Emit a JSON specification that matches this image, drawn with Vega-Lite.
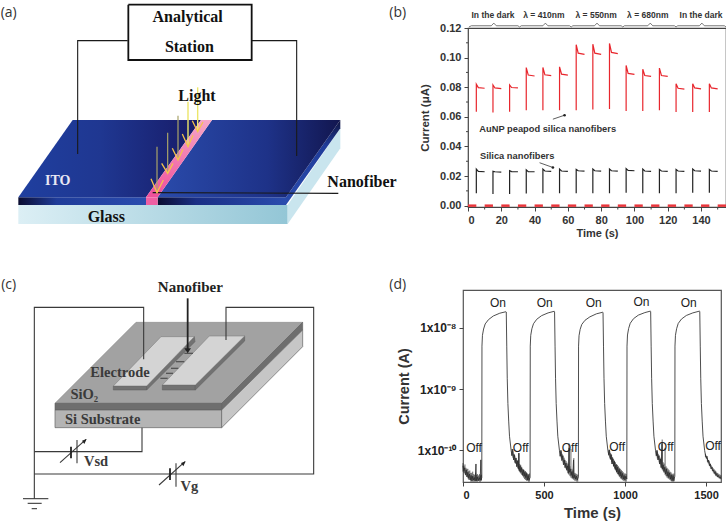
{"$schema":"https://vega.github.io/schema/vega-lite/v6.json","background":"white","padding":{"left":0,"top":1,"right":0,"bottom":0},"bounds":"flush","spacing":262,"config":{"font":"Liberation Sans","view":{"stroke":null}},"vconcat":[{"hconcat":[
{"width":467,"height":179,"view":{"stroke":null},"encoding":{"x":{"field":"x","type":"quantitative","scale":{"domain":[0,1401]},"axis":null},"y":{"field":"y","type":"quantitative","scale":{"domain":[621,84]},"axis":null}},"layer":[
{"data":{"values":[{"x":52,"y":615},{"x":860,"y":615},{"x":860,"y":672},{"x":52,"y":672},{"x":52,"y":615}]},"mark":{"type":"line","order":false,"strokeWidth":0,"fill":{"gradient":"linear","x1":0,"x2":1,"y1":0,"y2":0,"stops":[{"offset":0,"color":"#dcEFF5"},{"offset":1,"color":"#93c6d6"}]}},"encoding":{}},
{"data":{"values":[{"x":860,"y":615},{"x":1018,"y":385},{"x":1018,"y":445},{"x":860,"y":672},{"x":860,"y":615}]},"mark":{"type":"line","order":false,"strokeWidth":0,"fill":"#c9e5ee"},"encoding":{}},
{"data":{"values":[{"x":52,"y":592},{"x":435,"y":592},{"x":435,"y":615},{"x":52,"y":615},{"x":52,"y":592}]},"mark":{"type":"line","order":false,"strokeWidth":0,"fill":{"gradient":"linear","x1":0,"x2":1,"y1":0,"y2":0,"stops":[{"offset":0,"color":"#0a0c30"},{"offset":0.3,"color":"#1f3c99"},{"offset":1,"color":"#2a4cae"}]}},"encoding":{}},
{"data":{"values":[{"x":470,"y":592},{"x":855,"y":592},{"x":855,"y":615},{"x":470,"y":615},{"x":470,"y":592}]},"mark":{"type":"line","order":false,"strokeWidth":0,"fill":{"gradient":"linear","x1":0,"x2":1,"y1":0,"y2":0,"stops":[{"offset":0,"color":"#0a0c30"},{"offset":0.3,"color":"#1a2f85"},{"offset":1,"color":"#2a4cae"}]}},"encoding":{}},
{"data":{"values":[{"x":435,"y":592},{"x":470,"y":592},{"x":470,"y":615},{"x":435,"y":615},{"x":435,"y":592}]},"mark":{"type":"line","order":false,"strokeWidth":0,"fill":"#ee5fa3"},"encoding":{}},
{"data":{"values":[{"x":855,"y":592},{"x":1018,"y":360},{"x":1018,"y":385},{"x":855,"y":615},{"x":855,"y":592}]},"mark":{"type":"line","order":false,"strokeWidth":0,"fill":{"gradient":"linear","x1":0,"x2":0,"y1":0,"y2":1,"stops":[{"offset":0,"color":"#10143f"},{"offset":0.3,"color":"#1f3c99"},{"offset":1,"color":"#2a4cae"}]}},"encoding":{}},
{"data":{"values":[{"x":215,"y":360},{"x":600,"y":360},{"x":435,"y":592},{"x":52,"y":592},{"x":215,"y":360}]},"mark":{"type":"line","order":false,"strokeWidth":0,"fill":{"gradient":"linear","x1":0,"x2":1,"y1":0,"y2":0,"stops":[{"offset":0,"color":"#1f3f9f"},{"offset":0.45,"color":"#1f3791"},{"offset":1,"color":"#171a66"}]}},"encoding":{}},
{"data":{"values":[{"x":633,"y":360},{"x":1018,"y":360},{"x":855,"y":592},{"x":470,"y":592},{"x":633,"y":360}]},"mark":{"type":"line","order":false,"strokeWidth":0,"fill":{"gradient":"linear","x1":0,"x2":1,"y1":0,"y2":0,"stops":[{"offset":0,"color":"#2a4bab"},{"offset":0.6,"color":"#1e3288"},{"offset":1,"color":"#12164f"}]}},"encoding":{}},
{"data":{"values":[{"x":600,"y":360},{"x":633,"y":360},{"x":470,"y":592},{"x":435,"y":592},{"x":600,"y":360}]},"mark":{"type":"line","order":false,"strokeWidth":0,"fill":{"gradient":"linear","x1":0,"x2":0,"y1":0,"y2":1,"stops":[{"offset":0,"color":"#f6a6c6"},{"offset":1,"color":"#ee4f9b"}]}},"encoding":{}},
{"data":{"values":[{"p":1,"x":230,"y":462},{"p":1,"x":230,"y":122},{"p":1,"x":380,"y":122},{"p":2,"x":887,"y":468},{"p":2,"x":887,"y":122},{"p":2,"x":750,"y":122},{"p":3,"x":455,"y":578},{"p":3,"x":1012,"y":580}]},"mark":{"type":"line","order":false,"stroke":"#1a1a1a","strokeWidth":1.1},"encoding":{"detail":{"field":"p"}}},
{"data":{"values":[{"x":382,"y":14},{"x":752,"y":14},{"x":752,"y":180},{"x":382,"y":180},{"x":382,"y":14}]},"mark":{"type":"line","order":false,"stroke":"#111","strokeWidth":1.8,"fill":"white"},"encoding":{}},
{"data":{"values":[{"p":1,"x":468,"y":440},{"p":1,"x":468,"y":578},{"p":2,"x":500,"y":398},{"p":2,"x":500,"y":520},{"p":3,"x":531,"y":347},{"p":3,"x":531,"y":480}]},"mark":{"type":"line","order":false,"stroke":"#a9a46a","strokeWidth":1.2},"encoding":{"detail":{"field":"p"}}},
{"data":{"values":[{"p":4,"x":561,"y":305},{"p":4,"x":561,"y":440},{"p":5,"x":590,"y":262},{"p":5,"x":590,"y":395}]},"mark":{"type":"line","order":false,"stroke":"#ecE66a","strokeWidth":1.4},"encoding":{"detail":{"field":"p"}}},
{"data":{"values":[{"p":1,"x":450,"y":536},{"p":1,"x":468,"y":578},{"p":1,"x":487,"y":540},{"p":2,"x":482,"y":490},{"p":2,"x":500,"y":520},{"p":2,"x":516,"y":490},{"p":3,"x":514,"y":445},{"p":3,"x":531,"y":480},{"p":3,"x":546,"y":448},{"p":4,"x":544,"y":402},{"p":4,"x":561,"y":440},{"p":4,"x":576,"y":406},{"p":5,"x":574,"y":362},{"p":5,"x":590,"y":395},{"p":5,"x":606,"y":366}]},"mark":{"type":"line","order":false,"stroke":"#f3c44c","strokeWidth":1.3},"encoding":{"detail":{"field":"p"}}},
{"data":{"values":[{"t":"Analytical","x":560,"y":50},{"t":"Station","x":565,"y":140},{"t":"Light","x":588,"y":288},{"t":"Glass","x":316,"y":650},{"t":"Nanofiber","x":1083,"y":545}]},"mark":{"type":"text","font":"Liberation Serif","fontWeight":"bold","fontSize":16,"fill":"#111"},"encoding":{"text":{"field":"t"}}},
{"data":{"values":[{"t":"ITO","x":170,"y":543}]},"mark":{"type":"text","font":"Liberation Serif","fontWeight":"bold","fontSize":14,"fill":"#e8e8f4"},"encoding":{"text":{"field":"t"}}},
{"data":{"values":[{"t":"(a)","x":23,"y":40},{"t":"(b)","x":1190,"y":40}]},"mark":{"type":"text","font":"Open Sans","fontSize":14,"fill":"#333"},"encoding":{"text":{"field":"t"}}}
]},
{"width":258,"height":179,"view":{"stroke":"#444","strokeWidth":1.2},"layer":[
{"data":{"name":"pulses","values":[
{"s":"AuNP","n":1,"t":5,"v":0.0635},{"s":"AuNP","n":1,"t":5,"v":0.082},{"s":"AuNP","n":1,"t":6.2,"v":0.0797},{"s":"AuNP","n":1,"t":10,"v":0.0793},
{"s":"AuNP","n":2,"t":15,"v":0.063},{"s":"AuNP","n":2,"t":15,"v":0.0815},{"s":"AuNP","n":2,"t":16.2,"v":0.0795},{"s":"AuNP","n":2,"t":20,"v":0.079},
{"s":"AuNP","n":3,"t":25,"v":0.0635},{"s":"AuNP","n":3,"t":25,"v":0.0815},{"s":"AuNP","n":3,"t":26.2,"v":0.0798},{"s":"AuNP","n":3,"t":30,"v":0.0795},
{"s":"AuNP","n":4,"t":35,"v":0.0644},{"s":"AuNP","n":4,"t":35,"v":0.0933},{"s":"AuNP","n":4,"t":36.2,"v":0.0882},{"s":"AuNP","n":4,"t":40,"v":0.0876},
{"s":"AuNP","n":5,"t":45,"v":0.0644},{"s":"AuNP","n":5,"t":45,"v":0.0933},{"s":"AuNP","n":5,"t":46.2,"v":0.0884},{"s":"AuNP","n":5,"t":50,"v":0.0878},
{"s":"AuNP","n":6,"t":55,"v":0.0644},{"s":"AuNP","n":6,"t":55,"v":0.0938},{"s":"AuNP","n":6,"t":56.2,"v":0.0888},{"s":"AuNP","n":6,"t":60,"v":0.0882},
{"s":"AuNP","n":7,"t":65,"v":0.0644},{"s":"AuNP","n":7,"t":65,"v":0.1087},{"s":"AuNP","n":7,"t":66.2,"v":0.103},{"s":"AuNP","n":7,"t":70,"v":0.1022},
{"s":"AuNP","n":8,"t":75,"v":0.0649},{"s":"AuNP","n":8,"t":75,"v":0.1091},{"s":"AuNP","n":8,"t":76.2,"v":0.103},{"s":"AuNP","n":8,"t":80,"v":0.1022},
{"s":"AuNP","n":9,"t":85,"v":0.0653},{"s":"AuNP","n":9,"t":85,"v":0.1096},{"s":"AuNP","n":9,"t":86.2,"v":0.1035},{"s":"AuNP","n":9,"t":90,"v":0.1027},
{"s":"AuNP","n":10,"t":95,"v":0.064},{"s":"AuNP","n":10,"t":95,"v":0.0947},{"s":"AuNP","n":10,"t":96.2,"v":0.0893},{"s":"AuNP","n":10,"t":100,"v":0.0887},
{"s":"AuNP","n":11,"t":105,"v":0.064},{"s":"AuNP","n":11,"t":105,"v":0.0922},{"s":"AuNP","n":11,"t":106.2,"v":0.0879},{"s":"AuNP","n":11,"t":110,"v":0.0873},
{"s":"AuNP","n":12,"t":115,"v":0.0644},{"s":"AuNP","n":12,"t":115,"v":0.0929},{"s":"AuNP","n":12,"t":116.2,"v":0.0879},{"s":"AuNP","n":12,"t":120,"v":0.0873},
{"s":"AuNP","n":13,"t":125,"v":0.0633},{"s":"AuNP","n":13,"t":125,"v":0.0824},{"s":"AuNP","n":13,"t":126.2,"v":0.0793},{"s":"AuNP","n":13,"t":130,"v":0.0787},
{"s":"AuNP","n":14,"t":135,"v":0.0633},{"s":"AuNP","n":14,"t":135,"v":0.0824},{"s":"AuNP","n":14,"t":136.2,"v":0.0795},{"s":"AuNP","n":14,"t":140,"v":0.0789},
{"s":"AuNP","n":15,"t":145,"v":0.0633},{"s":"AuNP","n":15,"t":145,"v":0.0824},{"s":"AuNP","n":15,"t":146.2,"v":0.0795},{"s":"AuNP","n":15,"t":150,"v":0.0789},
{"s":"Silica","n":16,"t":5,"v":0.0084},{"s":"Silica","n":16,"t":5,"v":0.0247},{"s":"Silica","n":16,"t":6.2,"v":0.0232},{"s":"Silica","n":16,"t":10,"v":0.0229},
{"s":"Silica","n":17,"t":15,"v":0.0078},{"s":"Silica","n":17,"t":15,"v":0.0232},{"s":"Silica","n":17,"t":16.2,"v":0.0229},{"s":"Silica","n":17,"t":20,"v":0.0227},
{"s":"Silica","n":18,"t":25,"v":0.0078},{"s":"Silica","n":18,"t":25,"v":0.0236},{"s":"Silica","n":18,"t":26.2,"v":0.023},{"s":"Silica","n":18,"t":30,"v":0.0229},
{"s":"Silica","n":19,"t":35,"v":0.0082},{"s":"Silica","n":19,"t":35,"v":0.0242},{"s":"Silica","n":19,"t":36.2,"v":0.023},{"s":"Silica","n":19,"t":40,"v":0.0229},
{"s":"Silica","n":20,"t":45,"v":0.0084},{"s":"Silica","n":20,"t":45,"v":0.0247},{"s":"Silica","n":20,"t":46.2,"v":0.0234},{"s":"Silica","n":20,"t":50,"v":0.0231},
{"s":"Silica","n":21,"t":55,"v":0.0084},{"s":"Silica","n":21,"t":55,"v":0.0247},{"s":"Silica","n":21,"t":56.2,"v":0.0234},{"s":"Silica","n":21,"t":60,"v":0.0231},
{"s":"Silica","n":22,"t":65,"v":0.0084},{"s":"Silica","n":22,"t":65,"v":0.0245},{"s":"Silica","n":22,"t":66.2,"v":0.0236},{"s":"Silica","n":22,"t":70,"v":0.0233},
{"s":"Silica","n":23,"t":75,"v":0.0084},{"s":"Silica","n":23,"t":75,"v":0.0247},{"s":"Silica","n":23,"t":76.2,"v":0.0236},{"s":"Silica","n":23,"t":80,"v":0.0233},
{"s":"Silica","n":24,"t":85,"v":0.0084},{"s":"Silica","n":24,"t":85,"v":0.0247},{"s":"Silica","n":24,"t":86.2,"v":0.0236},{"s":"Silica","n":24,"t":90,"v":0.0233},
{"s":"Silica","n":25,"t":95,"v":0.0087},{"s":"Silica","n":25,"t":95,"v":0.025},{"s":"Silica","n":25,"t":96.2,"v":0.0238},{"s":"Silica","n":25,"t":100,"v":0.0236},
{"s":"Silica","n":26,"t":105,"v":0.0084},{"s":"Silica","n":26,"t":105,"v":0.0247},{"s":"Silica","n":26,"t":106.2,"v":0.0234},{"s":"Silica","n":26,"t":110,"v":0.0231},
{"s":"Silica","n":27,"t":115,"v":0.0084},{"s":"Silica","n":27,"t":115,"v":0.0245},{"s":"Silica","n":27,"t":116.2,"v":0.0234},{"s":"Silica","n":27,"t":120,"v":0.0231},
{"s":"Silica","n":28,"t":125,"v":0.0084},{"s":"Silica","n":28,"t":125,"v":0.0245},{"s":"Silica","n":28,"t":126.2,"v":0.0234},{"s":"Silica","n":28,"t":130,"v":0.0231},
{"s":"Silica","n":29,"t":135,"v":0.0087},{"s":"Silica","n":29,"t":135,"v":0.0247},{"s":"Silica","n":29,"t":136.2,"v":0.0236},{"s":"Silica","n":29,"t":140,"v":0.0233},
{"s":"Silica","n":30,"t":145,"v":0.0087},{"s":"Silica","n":30,"t":145,"v":0.0245},{"s":"Silica","n":30,"t":146.2,"v":0.0234},{"s":"Silica","n":30,"t":150,"v":0.0231}
]},"mark":{"type":"line","order":false,"strokeWidth":1.2},"encoding":{"x":{"field":"t","type":"quantitative","scale":{"domain":[0,155],"nice":false},"axis":{"values":[0,20,40,60,80,100,120,140],"tickCount":30,"grid":false,"title":"Time (s)","titleFontWeight":"bold","titleFontSize":11,"titleColor":"#333","titlePadding":2,"labelFontWeight":"bold","labelFontSize":11,"labelColor":"#333","labelPadding":3,"tickColor":"#444","domain":false,"tickSize":4}},"y":{"field":"v","type":"quantitative","scale":{"domain":[-0.0009,0.12],"nice":false,"zero":false},"axis":{"values":[0,0.02,0.04,0.06,0.08,0.1,0.12],"tickCount":30,"format":".2f","grid":false,"title":"Current (μA)","titleFontWeight":"bold","titleFontSize":11.5,"titleColor":"#333","titlePadding":9,"labelFontWeight":"bold","labelFontSize":11,"labelColor":"#333","labelPadding":3,"tickColor":"#444","domain":false,"tickSize":4}},"color":{"field":"s","type":"nominal","scale":{"domain":["AuNP","Silica"],"range":["#e8262d","#222222"]},"legend":null},"detail":{"field":"n"}}},
{"data":{"values":[{"t":0,"t2":5,"v":0},{"t":10,"t2":15,"v":0},{"t":20,"t2":25,"v":0},{"t":30,"t2":35,"v":0},{"t":40,"t2":45,"v":0},{"t":50,"t2":55,"v":0},{"t":60,"t2":65,"v":0},{"t":70,"t2":75,"v":0},{"t":80,"t2":85,"v":0},{"t":90,"t2":95,"v":0},{"t":100,"t2":105,"v":0},{"t":110,"t2":115,"v":0},{"t":120,"t2":125,"v":0},{"t":130,"t2":135,"v":0},{"t":140,"t2":145,"v":0},{"t":150,"t2":155,"v":0}]},"mark":{"type":"rule","stroke":"#e8363c","strokeWidth":2.5},"encoding":{"x":{"field":"t","type":"quantitative"},"x2":{"field":"t2"},"y":{"field":"v","type":"quantitative"}}},
{"data":{"values":[{"t":-1.2,"t2":0,"v":0.01},{"t":-1.2,"t2":0,"v":0.03},{"t":-1.2,"t2":0,"v":0.05},{"t":-1.2,"t2":0,"v":0.07},{"t":-1.2,"t2":0,"v":0.09},{"t":-1.2,"t2":0,"v":0.11}]},"mark":{"type":"rule","stroke":"#444","strokeWidth":1},"encoding":{"x":{"field":"t","type":"quantitative"},"x2":{"field":"t2"},"y":{"field":"v","type":"quantitative"}}},
{"data":{"values":[{"t":10,"v":-0.0009,"v2":-0.0026},{"t":30,"v":-0.0009,"v2":-0.0026},{"t":50,"v":-0.0009,"v2":-0.0026},{"t":70,"v":-0.0009,"v2":-0.0026},{"t":90,"v":-0.0009,"v2":-0.0026},{"t":110,"v":-0.0009,"v2":-0.0026},{"t":130,"v":-0.0009,"v2":-0.0026},{"t":150,"v":-0.0009,"v2":-0.0026}]},"mark":{"type":"rule","stroke":"#444","strokeWidth":1},"encoding":{"x":{"field":"t","type":"quantitative"},"y":{"field":"v","type":"quantitative"},"y2":{"field":"v2"}}},
{"data":{"values":[{"k":1,"t":0.6,"v":0.1207},{"k":1,"t":2,"v":0.1215},{"k":1,"t":14,"v":0.1215},{"k":1,"t":15.5,"v":0.1233},{"k":1,"t":17,"v":0.1215},{"k":1,"t":30,"v":0.1215},{"k":1,"t":31,"v":0.1207},{"k":2,"t":31,"v":0.1207},{"k":2,"t":32,"v":0.1215},{"k":2,"t":45,"v":0.1215},{"k":2,"t":46.5,"v":0.1233},{"k":2,"t":48,"v":0.1215},{"k":2,"t":61,"v":0.1215},{"k":2,"t":62,"v":0.1207},{"k":3,"t":62,"v":0.1207},{"k":3,"t":63,"v":0.1215},{"k":3,"t":76,"v":0.1215},{"k":3,"t":77.5,"v":0.1233},{"k":3,"t":79,"v":0.1215},{"k":3,"t":92,"v":0.1215},{"k":3,"t":93,"v":0.1207},{"k":4,"t":93,"v":0.1207},{"k":4,"t":94,"v":0.1215},{"k":4,"t":108,"v":0.1215},{"k":4,"t":109.5,"v":0.1233},{"k":4,"t":111,"v":0.1215},{"k":4,"t":124,"v":0.1215},{"k":4,"t":125,"v":0.1207},{"k":5,"t":125,"v":0.1207},{"k":5,"t":126,"v":0.1215},{"k":5,"t":139,"v":0.1215},{"k":5,"t":140.5,"v":0.1233},{"k":5,"t":142,"v":0.1215},{"k":5,"t":154,"v":0.1215},{"k":5,"t":155,"v":0.1207}]},"mark":{"type":"line","order":false,"stroke":"#555","strokeWidth":0.8,"clip":false},"encoding":{"x":{"field":"t","type":"quantitative"},"y":{"field":"v","type":"quantitative"},"detail":{"field":"k"}}},
{"data":{"values":[{"t":"In the dark","x":15,"v":0.1291},{"t":"λ = 410nm","x":45.6,"v":0.1291},{"t":"λ = 550nm","x":77,"v":0.1291},{"t":"λ = 680nm","x":108,"v":0.1291},{"t":"In the dark","x":140,"v":0.1291}]},"mark":{"type":"text","fontWeight":"bold","fontSize":8.5,"fill":"#333"},"encoding":{"x":{"field":"x","type":"quantitative"},"y":{"field":"v","type":"quantitative"},"text":{"field":"t"}}},
{"data":{"values":[{"t":"AuNP peapod silica nanofibers","x":6.8,"v":0.052},{"t":"Silica nanofibers","x":7.2,"v":0.0333}]},"mark":{"type":"text","fontWeight":"bold","fontSize":9.3,"fill":"#333","align":"left"},"encoding":{"x":{"field":"x","type":"quantitative"},"y":{"field":"v","type":"quantitative"},"text":{"field":"t"}}},
{"data":{"values":[{"k":1,"t":51,"v":0.0584},{"k":1,"t":58,"v":0.0611},{"k":2,"t":43,"v":0.029},{"k":2,"t":51,"v":0.0258}]},"mark":{"type":"line","order":false,"stroke":"#333","strokeWidth":0.8},"encoding":{"x":{"field":"t","type":"quantitative"},"y":{"field":"v","type":"quantitative"},"detail":{"field":"k"}}},
{"data":{"values":[{"t":58,"v":0.0611},{"t":51,"v":0.0258}]},"mark":{"type":"point","shape":"circle","size":7,"filled":true,"fill":"#222","opacity":1},"encoding":{"x":{"field":"t","type":"quantitative"},"y":{"field":"v","type":"quantitative"}}}
]}
],"spacing":0,"bounds":"flush"},
{"hconcat":[
{"width":462,"height":192,"view":{"stroke":null},"encoding":{"x":{"field":"x","type":"quantitative","scale":{"domain":[0,1386]},"axis":null},"y":{"field":"y","type":"quantitative","scale":{"domain":[636,60]},"axis":null}},"layer":[
{"data":{"values":[{"x":405,"y":157},{"x":905,"y":157},{"x":662,"y":400},{"x":162,"y":400},{"x":405,"y":157}]},"mark":{"type":"line","order":false,"fill":"#a2a2a2","stroke":"#8a8a8a","strokeWidth":0.6},"encoding":{}},
{"data":{"values":[{"p":1,"x":162,"y":400},{"p":1,"x":662,"y":400},{"p":1,"x":662,"y":420},{"p":1,"x":162,"y":420},{"p":1,"x":162,"y":400},{"p":2,"x":662,"y":400},{"p":2,"x":905,"y":157},{"p":2,"x":905,"y":180},{"p":2,"x":662,"y":420},{"p":2,"x":662,"y":400}]},"mark":{"type":"line","order":false,"fill":"#6e6e6e","stroke":"#5c5c5c","strokeWidth":0.6},"encoding":{"detail":{"field":"p"}}},
{"data":{"values":[{"x":162,"y":420},{"x":662,"y":420},{"x":662,"y":473},{"x":162,"y":473},{"x":162,"y":420}]},"mark":{"type":"line","order":false,"fill":"#b4b4b4","stroke":"#666","strokeWidth":0.7},"encoding":{}},
{"data":{"values":[{"x":662,"y":420},{"x":905,"y":180},{"x":905,"y":230},{"x":662,"y":473},{"x":662,"y":420}]},"mark":{"type":"line","order":false,"fill":"#c6c6c6","stroke":"#666","strokeWidth":0.7},"encoding":{}},
{"data":{"values":[{"p":1,"x":337,"y":348},{"p":1,"x":437,"y":348},{"p":1,"x":437,"y":360},{"p":1,"x":337,"y":360},{"p":1,"x":337,"y":348},{"p":2,"x":437,"y":348},{"p":2,"x":580,"y":200},{"p":2,"x":582,"y":215},{"p":2,"x":437,"y":360},{"p":2,"x":437,"y":348},{"p":3,"x":484,"y":345},{"p":3,"x":583,"y":345},{"p":3,"x":583,"y":360},{"p":3,"x":484,"y":360},{"p":3,"x":484,"y":345},{"p":4,"x":583,"y":345},{"p":4,"x":731,"y":198},{"p":4,"x":731,"y":213},{"p":4,"x":583,"y":360},{"p":4,"x":583,"y":345}]},"mark":{"type":"line","order":false,"fill":"#727272","stroke":"#5c5c5c","strokeWidth":0.5},"encoding":{"detail":{"field":"p"}}},
{"data":{"values":[{"p":1,"x":480,"y":200},{"p":1,"x":580,"y":200},{"p":1,"x":437,"y":348},{"p":1,"x":337,"y":348},{"p":1,"x":480,"y":200},{"p":2,"x":625,"y":198},{"p":2,"x":731,"y":198},{"p":2,"x":583,"y":345},{"p":2,"x":484,"y":345},{"p":2,"x":625,"y":198}]},"mark":{"type":"line","order":false,"fill":"#d4d4d4","stroke":"#777","strokeWidth":0.5},"encoding":{"detail":{"field":"p"}}},
{"data":{"values":[{"p":1,"x":550,"y":250},{"p":1,"x":576,"y":250},{"p":2,"x":525,"y":275},{"p":2,"x":550,"y":275},{"p":3,"x":510,"y":295},{"p":3,"x":532,"y":295},{"p":4,"x":495,"y":310},{"p":4,"x":516,"y":310},{"p":5,"x":478,"y":325},{"p":5,"x":500,"y":325}]},"mark":{"type":"line","order":false,"stroke":"#555","strokeWidth":1.3},"encoding":{"detail":{"field":"p"}}},
{"data":{"values":[{"p":1,"x":428,"y":268},{"p":1,"x":428,"y":112},{"p":1,"x":100,"y":112},{"p":1,"x":100,"y":686},{"p":2,"x":675,"y":210},{"p":2,"x":675,"y":112},{"p":2,"x":938,"y":112},{"p":2,"x":938,"y":612},{"p":2,"x":100,"y":612},{"p":3,"x":423,"y":473},{"p":3,"x":423,"y":545},{"p":3,"x":100,"y":545},{"p":4,"x":66,"y":686},{"p":4,"x":142,"y":686},{"p":5,"x":80,"y":700},{"p":5,"x":122,"y":700},{"p":6,"x":92,"y":716},{"p":6,"x":108,"y":716},{"p":7,"x":177,"y":578},{"p":7,"x":255,"y":508},{"p":8,"x":228,"y":510},{"p":8,"x":228,"y":580},{"p":9,"x":474,"y":645},{"p":9,"x":552,"y":575},{"p":10,"x":525,"y":580},{"p":10,"x":525,"y":650}]},"mark":{"type":"line","order":false,"stroke":"#3a3a3a","strokeWidth":1.1},"encoding":{"detail":{"field":"p"}}},
{"data":{"values":[{"p":1,"x":210,"y":530},{"p":1,"x":210,"y":565},{"p":2,"x":507,"y":595},{"p":2,"x":507,"y":630},{"p":3,"x":560,"y":85},{"p":3,"x":560,"y":240}]},"mark":{"type":"line","order":false,"stroke":"#222","strokeWidth":1.8},"encoding":{"detail":{"field":"p"}}},
{"data":{"values":[{"p":1,"x":560,"y":250},{"p":1,"x":550,"y":235},{"p":1,"x":570,"y":235},{"p":1,"x":560,"y":250},{"p":2,"x":257,"y":507},{"p":2,"x":243,"y":512},{"p":2,"x":250,"y":522},{"p":2,"x":257,"y":507},{"p":3,"x":554,"y":574},{"p":3,"x":540,"y":579},{"p":3,"x":547,"y":589},{"p":3,"x":554,"y":574}]},"mark":{"type":"line","order":false,"fill":"#222","strokeWidth":0},"encoding":{"detail":{"field":"p"}}},
{"data":{"values":[{"t":"Nanofiber","x":568,"y":52}]},"mark":{"type":"text","font":"Liberation Serif","fontWeight":"bold","fontSize":15,"fill":"#222"},"encoding":{"text":{"field":"t"}}},
{"data":{"values":[{"t":"Electrode","x":357,"y":310},{"t":"SiO₂","x":250,"y":376},{"t":"Si Substrate","x":305,"y":450},{"t":"Vsd","x":285,"y":577},{"t":"Vg","x":565,"y":652}]},"mark":{"type":"text","font":"Liberation Serif","fontWeight":"bold","fontSize":14.5,"fill":"#3a3a3a"},"encoding":{"text":{"field":"t"}}},
{"data":{"values":[{"t":"(c)","x":23,"y":45},{"t":"(d)","x":1190,"y":45}]},"mark":{"type":"text","font":"Open Sans","fontSize":14,"fill":"#333"},"encoding":{"text":{"field":"t"}}}
]},
{"width":258,"height":192,"view":{"stroke":"#555","strokeWidth":1.2},"layer":[
{"data":{"values":[
{"t":0,"i":5.6e-11},{"t":5,"i":4.6e-11},{"t":10,"i":5.2e-11},{"t":15,"i":4e-11},{"t":20,"i":4.8e-11},{"t":25,"i":3.7e-11},{"t":30,"i":4.4e-11},{"t":35,"i":3.5e-11},{"t":40,"i":4.1e-11},{"t":45,"i":3.3e-11},{"t":50,"i":3.9e-11},{"t":55,"i":3.2e-11},{"t":60,"i":3.8e-11},{"t":65,"i":3.3e-11},{"t":70,"i":3.6e-11},{"t":75,"i":3.2e-11},{"t":80,"i":6e-11},{"t":82,"i":3.2e-11},{"t":88,"i":3.7e-11},{"t":94,"i":3.2e-11},{"t":100,"i":3.6e-11},{"t":106,"i":3.3e-11},{"t":110,"i":7e-11},{"t":112,"i":3.3e-11},{"t":116,"i":3.6e-11},
{"t":117,"i":5e-9},{"t":120,"i":7.5e-9},{"t":127,"i":9.5e-9},{"t":137,"i":1.15e-8},{"t":157,"i":1.35e-8},{"t":187,"i":1.55e-8},{"t":227,"i":1.72e-8},{"t":265,"i":1.82e-8},{"t":267,"i":1.8e-8},{"t":270,"i":5e-9},{"t":273,"i":1.5e-9},{"t":277,"i":5.8e-10},{"t":282,"i":3e-10},{"t":287,"i":1.7e-10},{"t":297,"i":1e-10},
{"t":302,"i":8.2e-11},{"t":307,"i":1.05e-10},{"t":312,"i":7e-11},{"t":317,"i":8.5e-11},{"t":322,"i":6.2e-11},{"t":327,"i":7.5e-11},{"t":332,"i":5.4e-11},{"t":337,"i":6.8e-11},{"t":342,"i":5e-11},{"t":345,"i":9e-11},{"t":347,"i":4.6e-11},{"t":352,"i":5.6e-11},{"t":357,"i":4.4e-11},{"t":362,"i":5.2e-11},{"t":367,"i":4e-11},{"t":372,"i":4.8e-11},{"t":377,"i":3.8e-11},{"t":382,"i":4.4e-11},{"t":387,"i":3.6e-11},{"t":392,"i":4.2e-11},{"t":397,"i":3.3e-11},{"t":402,"i":3.9e-11},{"t":407,"i":3.3e-11},{"t":414,"i":3.6e-11},
{"t":415,"i":5e-9},{"t":418,"i":7.5e-9},{"t":425,"i":9.6e-9},{"t":435,"i":1.16e-8},{"t":455,"i":1.37e-8},{"t":485,"i":1.57e-8},{"t":525,"i":1.74e-8},{"t":563,"i":1.85e-8},{"t":565,"i":1.82e-8},{"t":568,"i":5e-9},{"t":571,"i":1.5e-9},{"t":575,"i":5.8e-10},{"t":580,"i":3e-10},{"t":585,"i":1.7e-10},{"t":595,"i":1e-10},
{"t":600,"i":8e-11},{"t":605,"i":1e-10},{"t":610,"i":6.8e-11},{"t":615,"i":8.2e-11},{"t":620,"i":5.8e-11},{"t":625,"i":7e-11},{"t":630,"i":5.2e-11},{"t":635,"i":6.2e-11},{"t":640,"i":4.8e-11},{"t":645,"i":5.6e-11},{"t":650,"i":4.2e-11},{"t":655,"i":1.1e-10},{"t":657,"i":4.4e-11},{"t":662,"i":5e-11},{"t":667,"i":3.9e-11},{"t":672,"i":4.5e-11},{"t":677,"i":3.6e-11},{"t":682,"i":7e-11},{"t":684,"i":3.5e-11},{"t":690,"i":4e-11},{"t":695,"i":3.4e-11},{"t":700,"i":3.8e-11},{"t":705,"i":3.3e-11},{"t":712,"i":3.7e-11},
{"t":713,"i":5e-9},{"t":716,"i":7.4e-9},{"t":723,"i":9.4e-9},{"t":733,"i":1.13e-8},{"t":753,"i":1.32e-8},{"t":783,"i":1.5e-8},{"t":823,"i":1.68e-8},{"t":861,"i":1.78e-8},{"t":864,"i":1.77e-8},{"t":867,"i":5e-9},{"t":870,"i":1.5e-9},{"t":874,"i":5.8e-10},{"t":879,"i":3e-10},{"t":884,"i":1.7e-10},{"t":894,"i":1e-10},
{"t":899,"i":8.5e-11},{"t":904,"i":1.02e-10},{"t":909,"i":7.2e-11},{"t":914,"i":8.6e-11},{"t":919,"i":6e-11},{"t":924,"i":7.4e-11},{"t":929,"i":5.5e-11},{"t":934,"i":6.6e-11},{"t":939,"i":4.9e-11},{"t":944,"i":5.8e-11},{"t":949,"i":4.4e-11},{"t":954,"i":5.3e-11},{"t":959,"i":4.1e-11},{"t":964,"i":4.9e-11},{"t":969,"i":3.8e-11},{"t":974,"i":4.5e-11},{"t":979,"i":3.6e-11},{"t":984,"i":4.2e-11},{"t":989,"i":3.4e-11},{"t":994,"i":3.9e-11},{"t":999,"i":3.3e-11},{"t":1005,"i":3.8e-11},{"t":1011,"i":3.4e-11},
{"t":1012,"i":5e-9},{"t":1015,"i":7.6e-9},{"t":1022,"i":9.7e-9},{"t":1032,"i":1.18e-8},{"t":1052,"i":1.4e-8},{"t":1082,"i":1.6e-8},{"t":1122,"i":1.76e-8},{"t":1156,"i":1.86e-8},{"t":1158,"i":1.84e-8},{"t":1161,"i":5e-9},{"t":1164,"i":1.5e-9},{"t":1168,"i":5.8e-10},{"t":1173,"i":3e-10},{"t":1178,"i":1.7e-10},{"t":1188,"i":1e-10},
{"t":1193,"i":8.2e-11},{"t":1198,"i":1e-10},{"t":1203,"i":7e-11},{"t":1208,"i":8.2e-11},{"t":1213,"i":6e-11},{"t":1218,"i":7.2e-11},{"t":1223,"i":5.2e-11},{"t":1228,"i":1.3e-10},{"t":1230,"i":4.9e-11},{"t":1235,"i":5.8e-11},{"t":1240,"i":4.5e-11},{"t":1245,"i":5.3e-11},{"t":1250,"i":4.1e-11},{"t":1255,"i":5e-11},{"t":1260,"i":3.8e-11},{"t":1265,"i":4.5e-11},{"t":1270,"i":3.6e-11},{"t":1275,"i":4.3e-11},{"t":1280,"i":3.4e-11},{"t":1285,"i":4e-11},{"t":1290,"i":3.2e-11},{"t":1296,"i":3.9e-11},{"t":1301,"i":3.2e-11},{"t":1307,"i":3.8e-11},
{"t":1308,"i":5e-9},{"t":1311,"i":7.5e-9},{"t":1318,"i":9.6e-9},{"t":1328,"i":1.17e-8},{"t":1348,"i":1.38e-8},{"t":1378,"i":1.58e-8},{"t":1418,"i":1.74e-8},{"t":1459,"i":1.86e-8},{"t":1461,"i":1.84e-8},{"t":1464,"i":5e-9},{"t":1467,"i":1.5e-9},{"t":1471,"i":5.8e-10},{"t":1476,"i":3e-10},{"t":1481,"i":1.7e-10},{"t":1491,"i":1e-10},
{"t":1496,"i":8.4e-11},{"t":1501,"i":7.5e-11},{"t":1506,"i":8e-11},{"t":1511,"i":6.4e-11},{"t":1516,"i":6.9e-11},{"t":1521,"i":5.6e-11},{"t":1526,"i":6e-11},{"t":1531,"i":5e-11},{"t":1536,"i":5.3e-11},{"t":1541,"i":4.6e-11},{"t":1546,"i":4.8e-11},{"t":1551,"i":4.2e-11},{"t":1556,"i":4.5e-11},{"t":1561,"i":3.9e-11},{"t":1566,"i":4.2e-11},{"t":1571,"i":3.7e-11},{"t":1576,"i":3.9e-11},{"t":1581,"i":3.6e-11},{"t":1586,"i":3.7e-11},{"t":1591,"i":3.5e-11}
]},"mark":{"type":"line","order":false,"stroke":"#3a3a3a","strokeWidth":0.9},"encoding":{"x":{"field":"t","type":"quantitative","scale":{"domain":[0,1592],"nice":false},"axis":{"values":[0,500,1000,1500],"format":"d","grid":false,"domain":false,"title":"Time (s)","titleFontWeight":"bold","titleFontSize":15,"titleColor":"#333","titlePadding":5,"labelFontWeight":"bold","labelFontSize":11,"labelColor":"#222","labelPadding":3,"tickSize":4,"tickColor":"#444"}},"y":{"field":"i","type":"quantitative","scale":{"type":"log","domain":[3.05e-11,4.11e-8],"nice":false},"axis":{"values":[1e-10,1e-9,1e-8],"labelExpr":"datum.value>5e-9?'1x10⁻⁸':datum.value>5e-10?'1x10⁻⁹':'1x10⁻¹⁰'","grid":false,"domain":false,"title":"Current (A)","titleFontWeight":"bold","titleFontSize":14.5,"titleColor":"#333","titlePadding":6,"labelFontWeight":"bold","labelFontSize":12,"labelColor":"#222","labelPadding":3,"tickSize":4,"tickColor":"#444"}}}},
{"data":{"values":[
{"t":0,"a":4.5e-11,"b":6.2e-11},{"t":6,"a":4.3e-11,"b":5.6e-11},{"t":12,"a":4.2e-11,"b":5.9e-11},{"t":18,"a":3.9e-11,"b":5.2e-11},{"t":24,"a":3.7e-11,"b":5e-11},{"t":30,"a":3.5e-11,"b":5e-11},{"t":36,"a":3.3e-11,"b":4.6e-11},{"t":42,"a":3.3e-11,"b":4.7e-11},{"t":48,"a":3.1e-11,"b":4.3e-11},{"t":54,"a":3.1e-11,"b":4.3e-11},{"t":60,"a":3.1e-11,"b":4.5e-11},{"t":66,"a":3.1e-11,"b":4.1e-11},{"t":72,"a":3.1e-11,"b":4e-11},{"t":78,"a":3.1e-11,"b":4.3e-11},{"t":84,"a":3.1e-11,"b":4e-11},{"t":90,"a":3.1e-11,"b":4.1e-11},{"t":96,"a":3.2e-11,"b":3.9e-11},{"t":102,"a":3.1e-11,"b":4.1e-11},{"t":108,"a":3.1e-11,"b":3.9e-11},{"t":114,"a":3.2e-11,"b":4e-11},
{"t":302,"a":8.2e-11,"b":1.05e-10},{"t":308,"a":7.6e-11,"b":9.6e-11},{"t":314,"a":7e-11,"b":8.8e-11},{"t":320,"a":6.5e-11,"b":8.2e-11},{"t":326,"a":6e-11,"b":7.6e-11},{"t":332,"a":5.5e-11,"b":7e-11},{"t":338,"a":5.1e-11,"b":6.6e-11},{"t":344,"a":4.8e-11,"b":9e-11},{"t":350,"a":4.4e-11,"b":6e-11},{"t":356,"a":4.2e-11,"b":5.8e-11},{"t":362,"a":4e-11,"b":5.4e-11},{"t":368,"a":3.8e-11,"b":5e-11},{"t":374,"a":3.6e-11,"b":4.9e-11},{"t":380,"a":3.4e-11,"b":4.7e-11},{"t":386,"a":3.3e-11,"b":4.6e-11},{"t":392,"a":3.2e-11,"b":4.4e-11},{"t":398,"a":3.2e-11,"b":4.2e-11},{"t":404,"a":3.1e-11,"b":4.1e-11},{"t":410,"a":3.1e-11,"b":4.2e-11},
{"t":600,"a":8e-11,"b":1e-10},{"t":606,"a":7.4e-11,"b":9.5e-11},{"t":612,"a":7e-11,"b":8.8e-11},{"t":618,"a":6.4e-11,"b":8.2e-11},{"t":624,"a":5.9e-11,"b":7.6e-11},{"t":630,"a":5.4e-11,"b":7e-11},{"t":636,"a":5e-11,"b":6.7e-11},{"t":642,"a":4.6e-11,"b":6.3e-11},{"t":648,"a":4.3e-11,"b":6e-11},{"t":654,"a":4e-11,"b":1.3e-10},{"t":660,"a":3.8e-11,"b":5.5e-11},{"t":666,"a":3.6e-11,"b":1.05e-10},{"t":672,"a":3.5e-11,"b":5e-11},{"t":678,"a":3.4e-11,"b":4.7e-11},{"t":684,"a":3.3e-11,"b":7.5e-11},{"t":690,"a":3.2e-11,"b":4.3e-11},{"t":696,"a":3.2e-11,"b":4.2e-11},{"t":702,"a":3.1e-11,"b":4.1e-11},{"t":708,"a":3.1e-11,"b":4e-11},
{"t":899,"a":8.2e-11,"b":1.02e-10},{"t":905,"a":7.6e-11,"b":9.6e-11},{"t":911,"a":7e-11,"b":9e-11},{"t":917,"a":6.5e-11,"b":8.4e-11},{"t":923,"a":6e-11,"b":7.8e-11},{"t":929,"a":5.5e-11,"b":7.2e-11},{"t":935,"a":5.1e-11,"b":6.8e-11},{"t":941,"a":4.7e-11,"b":6.4e-11},{"t":947,"a":4.4e-11,"b":6e-11},{"t":953,"a":4.1e-11,"b":5.8e-11},{"t":959,"a":3.9e-11,"b":5.5e-11},{"t":965,"a":3.7e-11,"b":5.2e-11},{"t":971,"a":3.5e-11,"b":5e-11},{"t":977,"a":3.4e-11,"b":4.8e-11},{"t":983,"a":3.3e-11,"b":4.6e-11},{"t":989,"a":3.2e-11,"b":4.4e-11},{"t":995,"a":3.2e-11,"b":4.2e-11},{"t":1001,"a":3.1e-11,"b":4.2e-11},{"t":1007,"a":3.1e-11,"b":4.1e-11},
{"t":1193,"a":8e-11,"b":1e-10},{"t":1199,"a":7.4e-11,"b":9.5e-11},{"t":1205,"a":7e-11,"b":8.8e-11},{"t":1211,"a":6.4e-11,"b":8.2e-11},{"t":1217,"a":5.9e-11,"b":7.6e-11},{"t":1223,"a":5.4e-11,"b":7.1e-11},{"t":1229,"a":5e-11,"b":1.5e-10},{"t":1235,"a":4.6e-11,"b":6.4e-11},{"t":1241,"a":4.3e-11,"b":6.1e-11},{"t":1247,"a":4e-11,"b":1.1e-10},{"t":1253,"a":3.8e-11,"b":5.5e-11},{"t":1259,"a":3.6e-11,"b":5.2e-11},{"t":1265,"a":3.5e-11,"b":5e-11},{"t":1271,"a":3.4e-11,"b":4.8e-11},{"t":1277,"a":3.3e-11,"b":4.5e-11},{"t":1283,"a":3.2e-11,"b":4.4e-11},{"t":1289,"a":3.1e-11,"b":4.2e-11},{"t":1295,"a":3.1e-11,"b":4.1e-11},{"t":1301,"a":3.1e-11,"b":4.2e-11},
{"t":1496,"a":7.8e-11,"b":8.8e-11},{"t":1502,"a":7.2e-11,"b":8.2e-11},{"t":1508,"a":6.6e-11,"b":7.6e-11},{"t":1514,"a":6.1e-11,"b":7e-11},{"t":1520,"a":5.7e-11,"b":6.6e-11},{"t":1526,"a":5.3e-11,"b":6.1e-11},{"t":1532,"a":5e-11,"b":5.7e-11},{"t":1538,"a":4.7e-11,"b":5.4e-11},{"t":1544,"a":4.4e-11,"b":5.1e-11},{"t":1550,"a":4.2e-11,"b":4.9e-11},{"t":1556,"a":4e-11,"b":4.7e-11},{"t":1562,"a":3.8e-11,"b":4.5e-11},{"t":1568,"a":3.7e-11,"b":4.3e-11},{"t":1574,"a":3.6e-11,"b":4.2e-11},{"t":1580,"a":3.5e-11,"b":4.1e-11},{"t":1586,"a":3.4e-11,"b":4e-11},{"t":1591,"a":3.4e-11,"b":3.9e-11}
]},"mark":{"type":"rule","stroke":"#2a2a2a","strokeWidth":0.7},"encoding":{"x":{"field":"t","type":"quantitative"},"y":{"field":"a","type":"quantitative"},"y2":{"field":"b"}}},
{"data":{"values":[{"t":"On","x":216,"v":2.56e-8},{"t":"On","x":504,"v":2.56e-8},{"t":"On","x":807,"v":2.56e-8},{"t":"On","x":1101,"v":2.6e-8},{"t":"On","x":1393,"v":2.56e-8},{"t":"Off","x":68,"v":1.1e-10},{"t":"Off","x":356,"v":1.1e-10},{"t":"Off","x":658,"v":1.1e-10},{"t":"Off","x":951,"v":1.15e-10},{"t":"Off","x":1251,"v":1.15e-10},{"t":"Off","x":1543,"v":1.2e-10}]},"mark":{"type":"text","fontSize":12,"fill":"#222"},"encoding":{"x":{"field":"x","type":"quantitative"},"y":{"field":"v","type":"quantitative"},"text":{"field":"t"}}}
]}
],"spacing":0,"bounds":"flush"}]}
